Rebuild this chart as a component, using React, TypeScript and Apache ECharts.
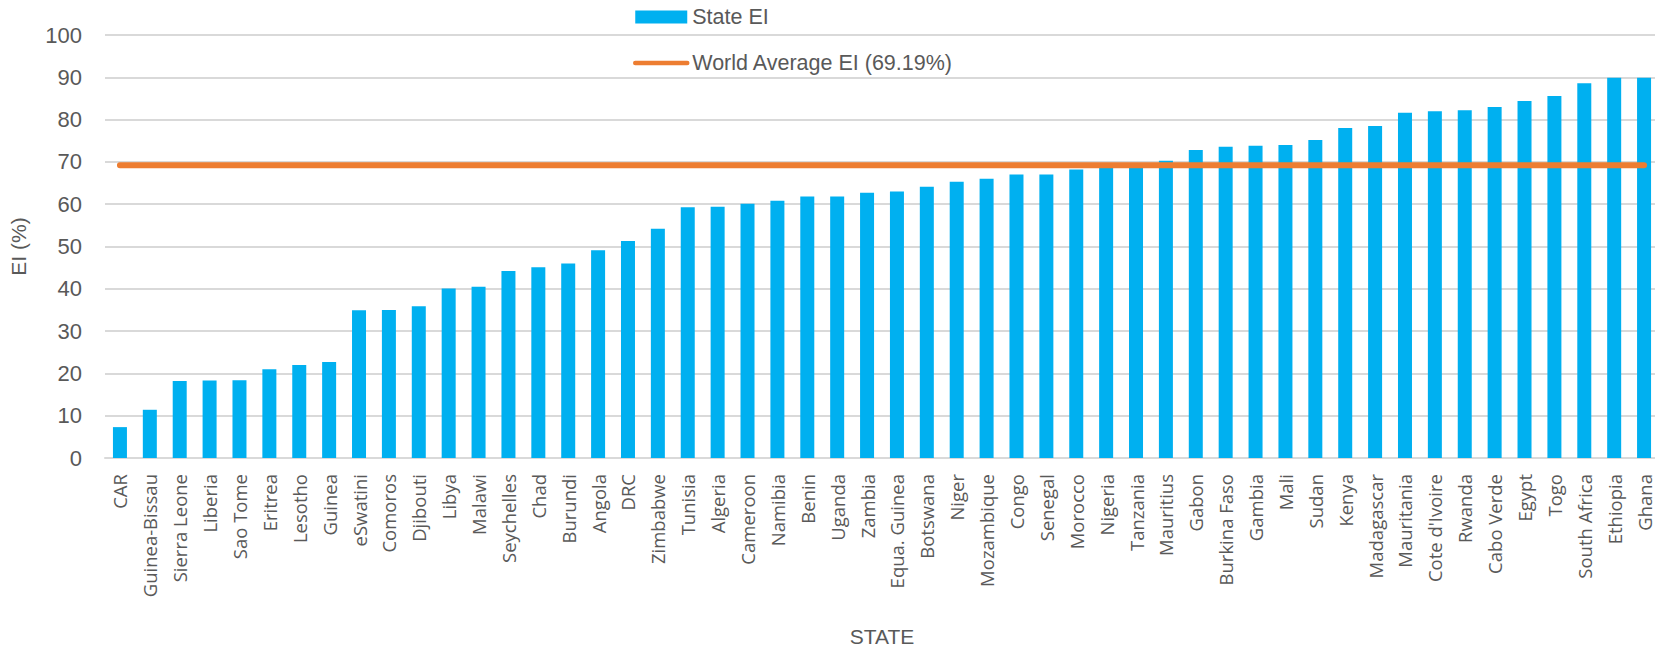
import React, { useEffect, useRef } from "react";
import * as echarts from "echarts";

const categories = [
  "CAR", "Guinea-Bissau", "Sierra Leone", "Liberia", "Sao Tome", "Eritrea", "Lesotho", "Guinea",
  "eSwatini", "Comoros", "Djibouti", "Libya", "Malawi", "Seychelles", "Chad", "Burundi", "Angola",
  "DRC", "Zimbabwe", "Tunisia", "Algeria", "Cameroon", "Namibia", "Benin", "Uganda", "Zambia",
  "Equa. Guinea", "Botswana", "Niger", "Mozambique", "Congo", "Senegal", "Morocco", "Nigeria",
  "Tanzania", "Mauritius", "Gabon", "Burkina Faso", "Gambia", "Mali", "Sudan", "Kenya",
  "Madagascar", "Mauritania", "Cote d'Ivoire", "Rwanda", "Cabo Verde", "Egypt", "Togo",
  "South Africa", "Ethiopia", "Ghana",
];

const stateEI = [
  7.3, 11.4, 18.2, 18.3, 18.4, 21.0, 22.0, 22.7,
  34.9, 35.0, 35.9, 40.1, 40.5, 44.2, 45.1, 46.0, 49.1,
  51.3, 54.2, 59.3, 59.4, 60.1, 60.8, 61.8, 61.8, 62.7,
  63.0, 64.1, 65.3, 66.0, 67.0, 67.0, 68.2, 68.8,
  69.0, 70.3, 72.8, 73.6, 73.8, 74.0, 75.2, 78.0,
  78.5, 81.6, 82.0, 82.2, 83.0, 84.4, 85.6,
  88.6, 89.9, 89.9,
];

const worldAverageEI = 69.19;
const yTicks = { min: 0, max: 100, interval: 10 };

const TEXT = "#595959";
const GRID = "#D9D9D9";
const SANS = "'Liberation Sans', Arial, sans-serif";
const LABEL_FONT = "'Open Sans', 'Noto Sans', sans-serif";

export default function App() {
  const ref = useRef<HTMLDivElement>(null);

  useEffect(() => {
    if (!ref.current) return;
    const chart = echarts.init(ref.current, undefined, { renderer: "svg" });
    const lineName = `World Average EI (${worldAverageEI.toFixed(2)}%)`;
    chart.setOption({
      animation: false,
      backgroundColor: "#ffffff",
      textStyle: { fontFamily: SANS, color: TEXT },
      legend: {
        orient: "vertical",
        left: 633,
        top: 6,
        padding: 0,
        itemWidth: 52,
        itemHeight: 13,
        itemGap: 24,
        itemTextGap: 6,
        textStyle: { fontFamily: SANS, fontSize: 21.5, color: TEXT },
        data: [
          { name: "State EI", icon: "rect" },
          {
            name: lineName,
            itemStyle: { color: "rgba(0,0,0,0)", borderWidth: 0 },
            lineStyle: { width: 4.5, cap: "round", color: "#ED7D31" },
          },
        ],
      },
      grid: { left: 104, right: 4, top: 35, bottom: 192, containLabel: false },
      xAxis: {
        type: "category",
        data: categories,
        boundaryGap: true,
        name: "STATE",
        nameLocation: "middle",
        nameGap: 168,
        nameTextStyle: { fontFamily: SANS, fontSize: 21, color: TEXT },
        axisTick: { show: false },
        axisLine: { show: true, lineStyle: { color: GRID, width: 2 } },
        axisLabel: {
          interval: 0,
          rotate: 90,
          margin: 16,
          fontFamily: LABEL_FONT,
          fontSize: 18.5,
          color: TEXT,
        },
      },
      yAxis: {
        type: "value",
        min: yTicks.min,
        max: yTicks.max,
        interval: yTicks.interval,
        name: "EI (%)",
        nameLocation: "middle",
        nameGap: 76,
        nameRotate: 90,
        nameTextStyle: { fontFamily: SANS, fontSize: 21, color: TEXT },
        axisLine: { show: false },
        axisTick: { show: false },
        axisLabel: { margin: 23, fontFamily: SANS, fontSize: 22, color: TEXT },
        splitLine: { show: true, lineStyle: { color: GRID, width: 2 } },
      },
      series: [
        {
          name: "State EI",
          type: "bar",
          data: stateEI,
          barWidth: 14,
          itemStyle: { color: "#00B0F0" },
          z: 2,
        },
        {
          name: lineName,
          type: "line",
          data: categories.map(() => worldAverageEI),
          symbol: "none",
          lineStyle: { color: "#ED7D31", width: 6, cap: "round" },
          itemStyle: { color: "#ED7D31" },
          z: 3,
        },
      ],
    });
    return () => chart.dispose();
  }, []);

  return <div ref={ref} style={{ width: 1663, height: 652, margin: -8 }} />;
}
